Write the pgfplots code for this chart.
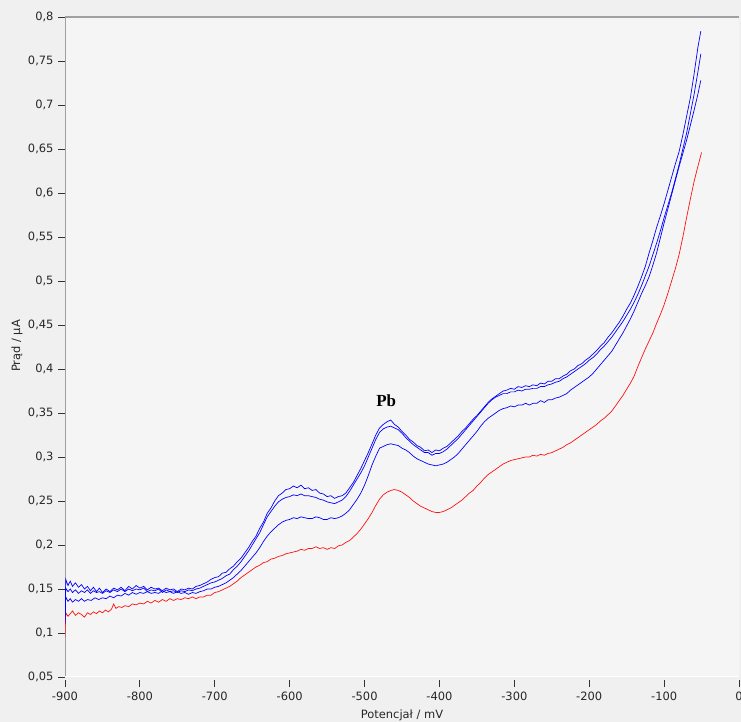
\documentclass[border=0pt]{standalone}
\usepackage{pgfplots}
\pgfplotsset{compat=1.18}
\usepackage{fontspec}
\setmainfont{DejaVu Sans}
\newfontfamily\pbfont{Liberation Serif}
\definecolor{outerbg}{HTML}{F0F0F0}
\definecolor{innerbg}{HTML}{F5F5F5}
\definecolor{axgray}{HTML}{A0A0A0}
\definecolor{curveblue}{HTML}{0000FF}
\definecolor{curvered}{HTML}{FF1010}
\begin{document}
\begin{tikzpicture}[x=1bp,y=1bp]
\useasboundingbox (0,0) rectangle (741,722);
\fill[outerbg] (0,0) rectangle (741,722);
\begin{axis}[
  at={(65bp,45bp)}, anchor=south west,
  scale only axis, width=674bp, height=660bp,
  xmin=-900, xmax=0, ymin=0.05, ymax=0.8,
  axis background/.style={fill=innerbg},
  axis line style={draw=none},
  xtick={-900,-800,-700,-600,-500,-400,-300,-200,-100,0},
  xticklabels={-900,-800,-700,-600,-500,-400,-300,-200,-100,0},
  ytick={0.05,0.1,0.15,0.2,0.25,0.3,0.35,0.4,0.45,0.5,0.55,0.6,0.65,0.7,0.75,0.8},
  yticklabels={{0,05},{0,1},{0,15},{0,2},{0,25},{0,3},{0,35},{0,4},{0,45},{0,5},{0,55},{0,6},{0,65},{0,7},{0,75},{0,8}},
  xtick pos=bottom, ytick pos=left,
  tick align=outside, major tick length=7bp,
  tick style={black!80, line width=0.9bp},
  xtick style={yshift=-3bp},
  xticklabel style={font=\fontsize{11.5}{12}\selectfont, text=black!85, yshift=-4bp},
  yticklabel style={font=\fontsize{11.5}{12}\selectfont, text=black!85, xshift=-1bp},
]
\draw[axgray, line width=1.5bp] (axis description cs:0,0) -- (axis description cs:0,1);
\draw[axgray, line width=1.3bp] (axis description cs:0,1) -- (axis description cs:1,1);
\draw[white, line width=1bp] (axis description cs:0,0) -- (axis description cs:1,0);

\addplot[curvered, line width=0.7bp, mark=none] coordinates {
(-900,0.095)(-899,0.123)(-896,0.119)(-893,0.122)(-890,0.125)(-886,0.120)(-882,0.123)(-878,0.121)(-874,0.118)(-870,0.123)(-866,0.121)(-862,0.124)(-858,0.122)(-854,0.125)(-850,0.123)(-846,0.126)(-842,0.124)(-838,0.127)(-835,0.133)(-832,0.128)(-828,0.130)(-824,0.129)(-820,0.131)(-815,0.130)(-810,0.133)(-805,0.132)(-800,0.134)(-795,0.133)(-790,0.136)(-785,0.134)(-780,0.137)(-775,0.135)(-770,0.138)(-765,0.136)(-760,0.139)(-755,0.137)(-750,0.139)(-745,0.138)(-740,0.140)(-735,0.139)(-730,0.141)(-725,0.139)(-720,0.141)(-715,0.141)(-710,0.143)(-705,0.143)(-700,0.146)(-695,0.147)(-690,0.149)(-685,0.151)(-680,0.153)(-675,0.156)(-670,0.159)(-665,0.163)(-660,0.166)(-655,0.169)(-650,0.172)(-645,0.175)(-640,0.177)(-635,0.180)(-630,0.181)(-625,0.184)(-620,0.185)(-615,0.187)(-610,0.188)(-605,0.190)(-600,0.191)(-595,0.192)(-590,0.193)(-585,0.195)(-580,0.194)(-575,0.196)(-570,0.196)(-565,0.198)(-560,0.196)(-555,0.197)(-550,0.195)(-545,0.197)(-540,0.196)(-535,0.199)(-530,0.200)(-525,0.203)(-520,0.205)(-515,0.209)(-510,0.213)(-505,0.218)(-500,0.224)(-495,0.230)(-490,0.237)(-485,0.245)(-480,0.252)(-475,0.257)(-470,0.260)(-465,0.262)(-460,0.263)(-455,0.262)(-450,0.260)(-445,0.257)(-440,0.254)(-435,0.250)(-430,0.247)(-425,0.244)(-420,0.242)(-415,0.240)(-410,0.238)(-405,0.237)(-400,0.237)(-395,0.238)(-390,0.240)(-385,0.242)(-380,0.245)(-375,0.248)(-370,0.251)(-365,0.255)(-360,0.259)(-355,0.262)(-350,0.267)(-345,0.271)(-340,0.276)(-335,0.280)(-330,0.283)(-325,0.286)(-320,0.289)(-315,0.292)(-310,0.294)(-305,0.296)(-300,0.297)(-295,0.298)(-290,0.299)(-285,0.300)(-280,0.300)(-275,0.302)(-270,0.301)(-265,0.303)(-260,0.302)(-255,0.304)(-250,0.305)(-245,0.307)(-240,0.309)(-235,0.311)(-230,0.314)(-225,0.316)(-220,0.319)(-215,0.322)(-210,0.325)(-205,0.328)(-200,0.331)(-195,0.334)(-190,0.337)(-185,0.341)(-180,0.344)(-175,0.348)(-170,0.352)(-165,0.358)(-160,0.364)(-155,0.370)(-150,0.377)(-145,0.384)(-140,0.392)(-135,0.403)(-130,0.413)(-125,0.423)(-120,0.432)(-115,0.441)(-110,0.452)(-105,0.462)(-100,0.473)(-95,0.486)(-90,0.500)(-85,0.514)(-80,0.530)(-75,0.550)(-70,0.572)(-65,0.593)(-60,0.613)(-55,0.630)(-50,0.646)
};

\addplot[curveblue, line width=0.7bp, mark=none] coordinates {
(-900,0.113)(-899,0.141)(-896,0.136)(-893,0.139)(-890,0.135)(-886,0.138)(-882,0.136)(-878,0.139)(-874,0.136)(-870,0.138)(-865,0.137)(-860,0.140)(-855,0.138)(-850,0.140)(-845,0.139)(-840,0.142)(-835,0.140)(-830,0.143)(-825,0.142)(-820,0.145)(-815,0.143)(-810,0.146)(-805,0.144)(-800,0.146)(-795,0.145)(-790,0.147)(-785,0.145)(-780,0.146)(-775,0.145)(-770,0.148)(-765,0.146)(-760,0.147)(-755,0.145)(-750,0.147)(-745,0.145)(-740,0.146)(-735,0.144)(-730,0.146)(-725,0.145)(-720,0.147)(-715,0.148)(-710,0.150)(-705,0.150)(-700,0.152)(-695,0.153)(-690,0.155)(-685,0.157)(-680,0.160)(-675,0.163)(-670,0.167)(-665,0.171)(-660,0.176)(-655,0.181)(-650,0.186)(-645,0.191)(-640,0.197)(-635,0.204)(-630,0.210)(-625,0.215)(-620,0.219)(-615,0.223)(-610,0.226)(-605,0.228)(-600,0.229)(-595,0.231)(-590,0.230)(-585,0.232)(-580,0.231)(-575,0.230)(-570,0.230)(-565,0.232)(-560,0.231)(-555,0.229)(-550,0.229)(-545,0.231)(-540,0.230)(-535,0.231)(-530,0.233)(-525,0.236)(-520,0.240)(-515,0.246)(-510,0.252)(-505,0.259)(-500,0.268)(-495,0.279)(-490,0.291)(-485,0.301)(-480,0.310)(-475,0.312)(-470,0.314)(-465,0.315)(-460,0.314)(-455,0.313)(-450,0.310)(-445,0.308)(-440,0.305)(-435,0.301)(-430,0.298)(-425,0.296)(-420,0.294)(-415,0.292)(-410,0.291)(-405,0.290)(-400,0.291)(-395,0.292)(-390,0.294)(-385,0.297)(-380,0.300)(-375,0.304)(-370,0.309)(-365,0.314)(-360,0.319)(-355,0.324)(-350,0.329)(-345,0.335)(-340,0.340)(-335,0.344)(-330,0.347)(-325,0.350)(-320,0.353)(-315,0.355)(-310,0.356)(-305,0.358)(-300,0.357)(-295,0.359)(-290,0.359)(-285,0.361)(-280,0.359)(-275,0.361)(-270,0.361)(-265,0.364)(-260,0.362)(-255,0.365)(-250,0.365)(-245,0.367)(-240,0.368)(-235,0.370)(-230,0.372)(-225,0.376)(-220,0.379)(-215,0.382)(-210,0.385)(-205,0.388)(-200,0.391)(-195,0.395)(-190,0.400)(-185,0.405)(-180,0.410)(-175,0.415)(-170,0.420)(-165,0.427)(-160,0.434)(-155,0.441)(-150,0.449)(-145,0.457)(-140,0.466)(-135,0.476)(-130,0.486)(-125,0.495)(-120,0.505)(-115,0.518)(-110,0.532)(-105,0.549)(-100,0.566)(-95,0.582)(-90,0.598)(-85,0.614)(-80,0.630)(-75,0.645)(-70,0.660)(-65,0.677)(-60,0.694)(-55,0.712)(-51,0.728)
};

\addplot[curveblue, line width=0.7bp, mark=none] coordinates {
(-900,0.115)(-899,0.151)(-896,0.147)(-893,0.150)(-890,0.146)(-886,0.149)(-882,0.145)(-878,0.148)(-874,0.146)(-870,0.149)(-866,0.145)(-862,0.148)(-858,0.146)(-854,0.147)(-850,0.145)(-845,0.148)(-840,0.146)(-835,0.149)(-830,0.147)(-825,0.150)(-820,0.147)(-815,0.150)(-810,0.148)(-805,0.150)(-800,0.149)(-795,0.151)(-790,0.147)(-785,0.149)(-780,0.148)(-775,0.150)(-770,0.146)(-765,0.149)(-760,0.147)(-755,0.148)(-750,0.146)(-745,0.148)(-740,0.147)(-735,0.149)(-730,0.148)(-725,0.150)(-720,0.151)(-715,0.153)(-710,0.155)(-705,0.157)(-700,0.158)(-695,0.160)(-690,0.162)(-685,0.165)(-680,0.167)(-675,0.172)(-670,0.176)(-665,0.181)(-660,0.187)(-655,0.193)(-650,0.200)(-645,0.207)(-640,0.214)(-635,0.223)(-630,0.232)(-625,0.238)(-620,0.244)(-615,0.249)(-610,0.252)(-605,0.254)(-600,0.255)(-595,0.257)(-590,0.256)(-585,0.258)(-580,0.256)(-575,0.256)(-570,0.255)(-565,0.254)(-560,0.252)(-555,0.251)(-550,0.249)(-545,0.248)(-540,0.247)(-535,0.249)(-530,0.251)(-525,0.255)(-520,0.261)(-515,0.268)(-510,0.275)(-505,0.282)(-500,0.290)(-495,0.300)(-490,0.310)(-485,0.320)(-480,0.328)(-475,0.332)(-470,0.334)(-465,0.335)(-460,0.333)(-455,0.331)(-450,0.327)(-445,0.322)(-440,0.318)(-435,0.314)(-430,0.311)(-425,0.308)(-420,0.305)(-415,0.305)(-410,0.302)(-405,0.304)(-400,0.304)(-395,0.306)(-390,0.309)(-385,0.313)(-380,0.317)(-375,0.321)(-370,0.326)(-365,0.331)(-360,0.336)(-355,0.341)(-350,0.346)(-345,0.351)(-340,0.356)(-335,0.361)(-330,0.365)(-325,0.368)(-320,0.370)(-315,0.372)(-310,0.372)(-305,0.374)(-300,0.374)(-295,0.376)(-290,0.375)(-285,0.377)(-280,0.377)(-275,0.378)(-270,0.378)(-265,0.380)(-260,0.380)(-255,0.382)(-250,0.383)(-245,0.385)(-240,0.386)(-235,0.389)(-230,0.391)(-225,0.394)(-220,0.397)(-215,0.400)(-210,0.403)(-205,0.406)(-200,0.410)(-195,0.413)(-190,0.417)(-185,0.422)(-180,0.426)(-175,0.431)(-170,0.436)(-165,0.442)(-160,0.448)(-155,0.454)(-150,0.461)(-145,0.468)(-140,0.476)(-135,0.485)(-130,0.495)(-125,0.506)(-120,0.517)(-115,0.530)(-110,0.543)(-105,0.557)(-100,0.572)(-95,0.586)(-90,0.600)(-85,0.616)(-80,0.632)(-75,0.650)(-70,0.668)(-65,0.690)(-60,0.712)(-55,0.737)(-51,0.758)
};

\addplot[curveblue, line width=0.7bp, mark=none] coordinates {
(-900,0.110)(-899,0.161)(-896,0.154)(-893,0.159)(-890,0.153)(-886,0.157)(-882,0.152)(-878,0.155)(-874,0.150)(-870,0.153)(-866,0.148)(-862,0.152)(-858,0.147)(-854,0.151)(-850,0.146)(-845,0.150)(-840,0.147)(-835,0.151)(-830,0.149)(-825,0.152)(-820,0.148)(-815,0.153)(-810,0.150)(-805,0.154)(-800,0.151)(-795,0.153)(-790,0.149)(-785,0.152)(-780,0.150)(-775,0.151)(-770,0.148)(-765,0.151)(-760,0.149)(-755,0.150)(-750,0.147)(-745,0.150)(-740,0.149)(-735,0.151)(-730,0.150)(-725,0.153)(-720,0.154)(-715,0.156)(-710,0.158)(-705,0.161)(-700,0.163)(-695,0.164)(-690,0.168)(-685,0.169)(-680,0.173)(-675,0.176)(-670,0.181)(-665,0.185)(-660,0.191)(-655,0.197)(-650,0.204)(-645,0.210)(-640,0.219)(-635,0.226)(-630,0.236)(-625,0.242)(-620,0.250)(-615,0.256)(-610,0.259)(-605,0.263)(-600,0.264)(-595,0.267)(-590,0.265)(-585,0.268)(-580,0.264)(-575,0.265)(-570,0.262)(-565,0.263)(-560,0.259)(-555,0.258)(-550,0.255)(-545,0.256)(-540,0.253)(-535,0.255)(-530,0.256)(-525,0.259)(-520,0.265)(-515,0.271)(-510,0.279)(-505,0.287)(-500,0.296)(-495,0.305)(-490,0.315)(-485,0.325)(-480,0.333)(-475,0.337)(-470,0.340)(-465,0.342)(-460,0.337)(-455,0.334)(-450,0.329)(-445,0.325)(-440,0.320)(-435,0.317)(-430,0.313)(-425,0.311)(-420,0.307)(-415,0.308)(-410,0.305)(-405,0.308)(-400,0.307)(-395,0.310)(-390,0.312)(-385,0.316)(-380,0.320)(-375,0.324)(-370,0.329)(-365,0.333)(-360,0.338)(-355,0.343)(-350,0.347)(-345,0.352)(-340,0.357)(-335,0.362)(-330,0.366)(-325,0.369)(-320,0.372)(-315,0.375)(-310,0.376)(-305,0.378)(-300,0.377)(-295,0.380)(-290,0.379)(-285,0.381)(-280,0.380)(-275,0.382)(-270,0.381)(-265,0.384)(-260,0.383)(-255,0.386)(-250,0.386)(-245,0.389)(-240,0.389)(-235,0.392)(-230,0.394)(-225,0.398)(-220,0.400)(-215,0.404)(-210,0.406)(-205,0.410)(-200,0.413)(-195,0.417)(-190,0.421)(-185,0.426)(-180,0.430)(-175,0.436)(-170,0.441)(-165,0.447)(-160,0.453)(-155,0.460)(-150,0.468)(-145,0.475)(-140,0.484)(-135,0.494)(-130,0.505)(-125,0.517)(-120,0.532)(-115,0.546)(-110,0.561)(-105,0.574)(-100,0.588)(-95,0.603)(-90,0.618)(-85,0.633)(-80,0.647)(-75,0.666)(-70,0.687)(-65,0.708)(-60,0.735)(-55,0.765)(-51,0.784)
};

\node[font=\pbfont\bfseries\fontsize{17}{17}\selectfont] at (axis cs:-471,0.364) {Pb};
\end{axis}
\node[rotate=90, font=\fontsize{11.5}{12}\selectfont, text=black!85] at (17,376) {Prąd / µA};
\node[anchor=north, inner sep=0pt, font=\fontsize{11.5}{12}\selectfont, text=black!85] at (402,12) {Potencjał / mV};
\end{tikzpicture}
\end{document}
